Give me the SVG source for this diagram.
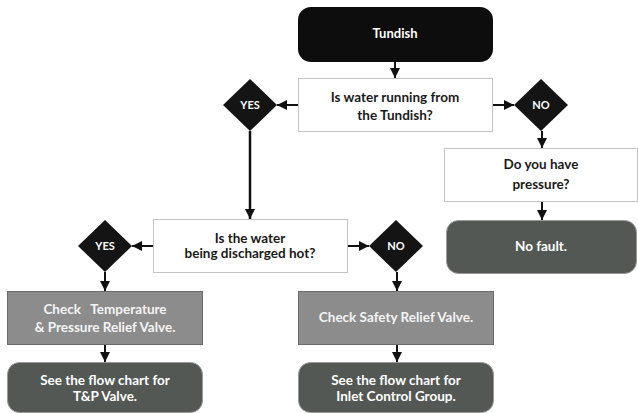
<svg xmlns="http://www.w3.org/2000/svg" width="638" height="413" viewBox="0 0 638 413">
<defs>
<marker id="ah" viewBox="0 0 10 10" refX="10" refY="5" markerWidth="10" markerHeight="10" markerUnits="userSpaceOnUse" orient="auto">
<path d="M0,0 L10,5 L0,10 Z" fill="#111"/>
</marker>
</defs>
<style>
text{font-family:Lato,"Open Sans","Liberation Sans",sans-serif;font-weight:bold;font-size:13.5px;text-anchor:middle}
.q{fill:#fff;stroke:#c4c4c4;stroke-width:1}
.qt{fill:#1a1a1a}
.d{fill:#141414}
.dt{fill:#fff;font-size:11px}
.g{fill:#8c8c8c;stroke:#6a6a6a;stroke-width:1}
.gt{fill:#f4f4f4}
.k{fill:#535854;stroke:#9a9a9a;stroke-width:1}
.kt{fill:#fff}
.c{stroke:#111;stroke-width:2;fill:none;marker-end:url(#ah)}
</style>
<g id="connectors">
<line class="c" x1="395" y1="62" x2="395" y2="78"/>
<line class="c" x1="298" y1="105" x2="277" y2="105"/>
<line class="c" x1="493" y1="105" x2="514" y2="105"/>
<line class="c" x1="250" y1="131" x2="250" y2="219" style="stroke-width:2.5"/>
<line class="c" x1="542" y1="131" x2="542" y2="148"/>
<line class="c" x1="542" y1="202" x2="542" y2="220"/>
<line class="c" x1="153" y1="246" x2="132" y2="246"/>
<line class="c" x1="348" y1="246" x2="369" y2="246"/>
<line class="c" x1="105" y1="272" x2="105" y2="291"/>
<line class="c" x1="105" y1="345" x2="105" y2="362"/>
<line class="c" x1="397" y1="272" x2="397" y2="291"/>
<line class="c" x1="397" y1="345" x2="397" y2="362"/>
</g>
<g id="tundish">
<rect x="298" y="7" width="195" height="55" rx="13" fill="#0d0d0d"/>
<text x="395" y="38" fill="#fff" style="font-size:13px">Tundish</text>
</g>
<g id="q1">
<rect class="q" x="298.5" y="78.5" width="194" height="53"/>
<text class="qt" x="395" y="102">Is water running from</text>
<text class="qt" x="395" y="120">the Tundish?</text>
</g>
<g id="yes1">
<polygon class="d" points="250,79 277,105 250,131 223,105"/>
<text class="dt" x="250" y="109">YES</text>
</g>
<g id="no1">
<polygon class="d" points="541,79 568,105 541,131 514,105"/>
<text class="dt" x="541" y="109">NO</text>
</g>
<g id="q2">
<rect class="q" x="153.5" y="219.5" width="194" height="53"/>
<text class="qt" x="250" y="243">Is the water</text>
<text class="qt" x="250" y="258">being discharged hot?</text>
</g>
<g id="yes2">
<polygon class="d" points="105,220 132,246 105,272 78,246"/>
<text class="dt" x="105" y="250">YES</text>
</g>
<g id="no2">
<polygon class="d" points="396,220 423,246 396,272 369,246"/>
<text class="dt" x="396" y="250">NO</text>
</g>
<g id="pressure">
<rect class="q" x="444.5" y="148.5" width="193" height="53"/>
<text class="qt" x="541" y="169">Do you have</text>
<text class="qt" x="541" y="189">pressure?</text>
</g>
<g id="nofault">
<rect class="k" x="446.5" y="220.5" width="190" height="53" rx="12"/>
<text class="kt" x="541" y="251">No fault.</text>
</g>
<g id="tp">
<rect class="g" x="7.5" y="291.5" width="195" height="53"/>
<text class="gt" x="105" y="314" xml:space="preserve">Check   Temperature</text>
<text class="gt" x="105" y="332">&amp; Pressure Relief Valve.</text>
</g>
<g id="srv">
<rect class="g" x="298.5" y="291.5" width="195" height="53"/>
<text class="gt" x="396" y="322">Check Safety Relief Valve.</text>
</g>
<g id="tpchart">
<rect class="k" x="7.5" y="362.5" width="195" height="50" rx="12"/>
<text class="kt" x="105" y="385">See the flow chart for</text>
<text class="kt" x="105" y="401">T&amp;P Valve.</text>
</g>
<g id="icgchart">
<rect class="k" x="298.5" y="362.5" width="195" height="50" rx="12"/>
<text class="kt" x="396" y="385">See the flow chart for</text>
<text class="kt" x="396" y="401">Inlet Control Group.</text>
</g>
</svg>
